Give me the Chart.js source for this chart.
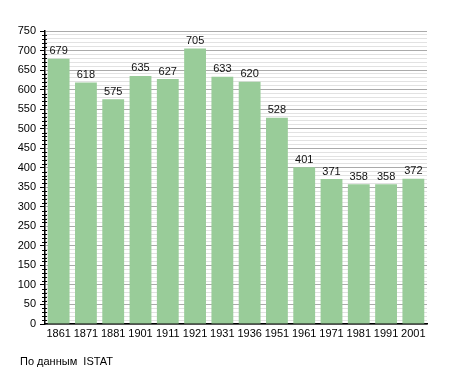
<!DOCTYPE html>
<html>
<head>
<meta charset="utf-8">
<script src="https://cdn.jsdelivr.net/npm/chart.js@4"></script>
<style>
  html, body { margin: 0; padding: 0; background: #fff; }
  #wrap { position: relative; width: 455px; height: 373px; }
  #note { position: absolute; left: 20px; top: 355px; font: 11px "Liberation Sans", Arial, sans-serif; color: #000; white-space: pre; }
</style>
</head>
<body>
<div id="wrap">
  <canvas id="popChart" width="455" height="373"></canvas>
  <div id="note">По данным  ISTAT</div>
</div>
<script>
// годы переписей и население
const years = ['1861', '1871', '1881', '1901', '1911', '1921', '1931', '1936', '1951', '1961', '1971', '1981', '1991', '2001'];
const population = [679, 618, 575, 635, 627, 705, 633, 620, 528, 401, 371, 358, 358, 372];
const yMax = 750;
const yMajorStep = 50;
const yMinorStep = 10;

const font = { family: '"Liberation Sans", Arial, sans-serif', size: 11 };

// подписи значений над столбцами
const valueLabels = {
  id: 'valueLabels',
  afterDatasetsDraw(chart) {
    const ctx = chart.ctx;
    const meta = chart.getDatasetMeta(0);
    ctx.save();
    ctx.font = '11px "Liberation Sans", Arial, sans-serif';
    ctx.fillStyle = '#111';
    ctx.textAlign = 'center';
    ctx.textBaseline = 'bottom';
    meta.data.forEach((bar, i) => {
      ctx.fillText(population[i], bar.x, bar.y - 2);
    });
    ctx.restore();
  }
};

// мелкие засечки на оси Y
const minorTicks = {
  id: 'minorTicks',
  afterDraw(chart) {
    const ctx = chart.ctx;
    const y = chart.scales.y;
    const x0 = chart.chartArea.left;
    ctx.save();
    ctx.strokeStyle = '#000';
    ctx.lineWidth = 1;
    for (let v = 0; v <= yMax; v += yMinorStep) {
      if (v % yMajorStep === 0) continue;
      const py = Math.round(y.getPixelForValue(v)) + 0.5;
      ctx.beginPath();
      ctx.moveTo(x0 - 3, py);
      ctx.lineTo(x0 + 2, py);
      ctx.stroke();
    }
    ctx.restore();
  }
};

new Chart(document.getElementById('popChart').getContext('2d'), {
  type: 'bar',
  data: {
    labels: years,
    datasets: [{
      data: population,
      backgroundColor: '#99cc99',
      borderWidth: 0,
      barPercentage: 1,
      categoryPercentage: 0.8
    }]
  },
  options: {
    responsive: false,
    animation: false,
    layout: { padding: { top: 31, right: 28, bottom: 29, left: 0 } },
    plugins: { legend: { display: false }, tooltip: { enabled: false } },
    scales: {
      x: {
        grid: { display: false, drawTicks: false },
        border: { display: true, color: '#000', width: 1.5 },
        ticks: { color: '#000', font: font, padding: 3, maxRotation: 0, autoSkip: false },
        afterFit(scale) { scale.height = 20; }
      },
      y: {
        min: 0,
        max: yMax,
        border: { display: true, color: '#000', width: 1.5 },
        grid: {
          color: c => (c.tick && c.tick.value % yMajorStep === 0) ? '#aaaaaa' : '#e2e2e2',
          tickColor: c => (c.tick && c.tick.value % yMajorStep === 0) ? '#000' : 'rgba(0,0,0,0)',
          tickLength: 5
        },
        ticks: {
          stepSize: yMinorStep,
          autoSkip: false,
          color: '#000',
          font: font,
          padding: 4,
          callback: v => (v % yMajorStep === 0 ? v : '')
        },
        afterFit(scale) { scale.width = 45; }
      }
    }
  },
  plugins: [valueLabels, minorTicks]
});
</script>
</body>
</html>
